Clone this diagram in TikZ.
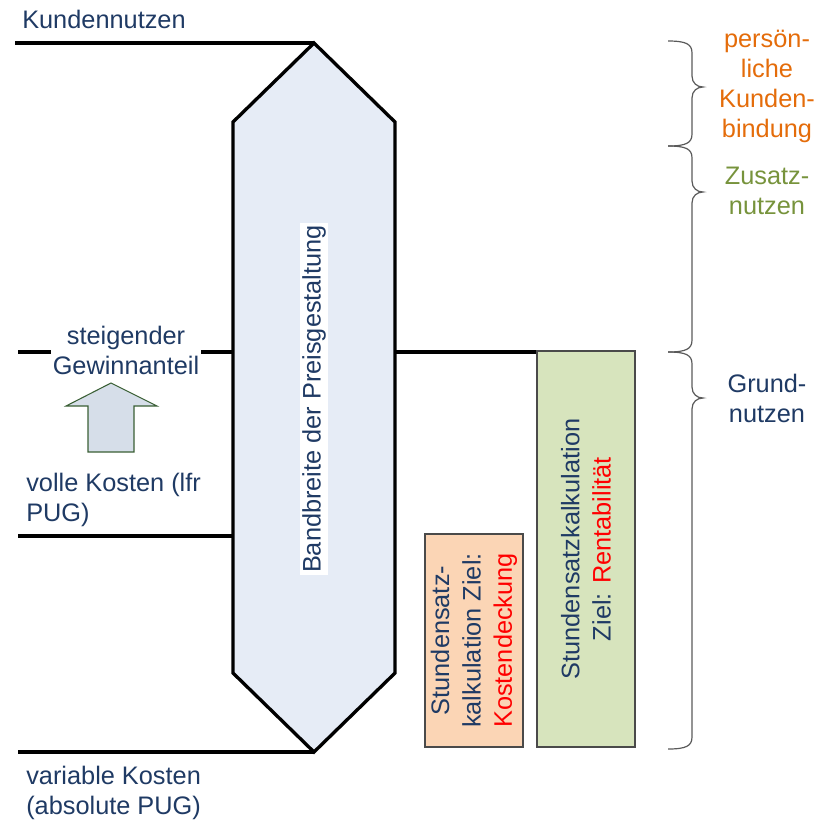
\documentclass[tikz,border=0pt]{standalone}
\usepackage{fontspec}
\setmainfont{Liberation Sans}

\definecolor{textblau}{HTML}{1F3A64}
\definecolor{hexfill}{HTML}{E6ECF6}
\definecolor{orangetext}{HTML}{E46C0A}
\definecolor{gruentext}{HTML}{77933C}
\definecolor{rot}{HTML}{FF0000}
\definecolor{orangefill}{HTML}{FBD5B5}
\definecolor{gruenfill}{HTML}{D7E4BD}
\definecolor{kastenrand}{HTML}{4A4A4A}
\definecolor{pfeilfill}{HTML}{D6DEE9}
\definecolor{pfeilrand}{HTML}{3A5F35}
\definecolor{klammergrau}{HTML}{5A5A5A}

\begin{document}
\begin{tikzpicture}[x=0.75pt, y=-0.75pt,
        every node/.style={font=\fontsize{19}{22.5}\selectfont, text=textblau},
        linie/.style={line width=2.5pt},
        hexa/.style={line width=2.5pt, fill=hexfill, line join=miter},
        kasten/.style={draw=kastenrand, line width=0.8pt, minimum width=73.5pt},
        drehtext/.style={rotate=90, align=center, font=\fontsize{19}{23.5}\selectfont},
        klammer/.style={draw=klammergrau, line width=0.9pt}]
    \useasboundingbox (0,0) rectangle (821,819);

    % Sechseck
    \coordinate (hexTop) at (314,43);
    \coordinate (hexOL) at (233,122);
    \coordinate (hexUL) at (233,673);
    \coordinate (hexBot) at (314,752);
    \coordinate (hexUR) at (395,673);
    \coordinate (hexOR) at (395,122);
    \draw[hexa] (hexTop) -- (hexOL) -- (hexUL) -- (hexBot) -- (hexUR) -- (hexOR) -- cycle;
    \node[rotate=90, fill=white, inner sep=1.5pt] (band) at (314,399) {Bandbreite der Preisgestaltung};

    % Linien links und rechts
    \coordinate (kunde) at (15,43);
    \coordinate (gewinn) at (18,352);
    \coordinate (voll) at (18,536);
    \coordinate (variabel) at (18,752);
    \coordinate (grund) at (395,352);
    \draw[linie] (kunde) -- (hexTop);
    \draw[linie] (gewinn) -- (gewinn -| hexOL);
    \draw[linie] (voll) -- (voll -| hexOL);
    \draw[linie] (variabel) -- (hexBot);

    % Beschriftung links
    \node[anchor=base west, inner sep=0pt] (kundennutzen) at (22,28) {Kundennutzen};
    \node[align=center, fill=white, inner sep=1pt] (steigend) at (126,350) {steigender\\Gewinnanteil};
    \node[align=left, anchor=west, inner sep=0pt] (vollekosten) at (26,500) {volle Kosten (lfr\\PUG)};
    \node[align=left, anchor=west, inner sep=0pt] (variablekosten) at (26,793) {variable Kosten\\(absolute PUG)};

    % Pfeil
    \draw[fill=pfeilfill, draw=pfeilrand, line width=0.8pt] (111,383) -- (157,406) -- (134,406) -- (134,452)
        -- (88,452) -- (88,406) -- (66,406) -- cycle;

    % Kaesten
    \node[kasten, fill=orangefill, minimum height=159.75pt] (kosten) at (474,640.5) {};
    \node[drehtext] (kostentext) at (kosten) {Stundensatz-\\kalkulation Ziel:\\\textcolor{rot}{Kostendeckung}};
    \node[kasten, fill=gruenfill, minimum height=297pt] (rent) at (586,549) {};
    \node[drehtext] (renttext) at (rent) {Stundensatzkalkulation\\Ziel: \textcolor{rot}{Rentabilität}};
    \draw[linie] (grund) -- (grund -| rent.west);

    % Klammern rechts
    \foreach \oben/\mitte/\unten in {41/87/146, 146/192/352, 352/398/749}
        \draw[klammer] (668,\oben) .. controls (686,\oben) and (692,{\oben+3}) .. (692,{\oben+12})
            -- (692,{\mitte-11}) .. controls (692,{\mitte-4}) and (697,\mitte) .. (703,\mitte)
            .. controls (697,\mitte) and (692,{\mitte+4}) .. (692,{\mitte+11})
            -- (692,{\unten-12}) .. controls (692,{\unten-3}) and (686,\unten) .. (668,\unten);

    % Beschriftung rechts
    \node[align=center, text=orangetext] (bindung) at (767,86) {persön-\\liche\\Kunden-\\bindung};
    \node[align=center, text=gruentext] (zusatz) at (767,191) {Zusatz-\\nutzen};
    \node[align=center] (grundnutzen) at (767,398) {Grund-\\nutzen};
\end{tikzpicture}
\end{document}
